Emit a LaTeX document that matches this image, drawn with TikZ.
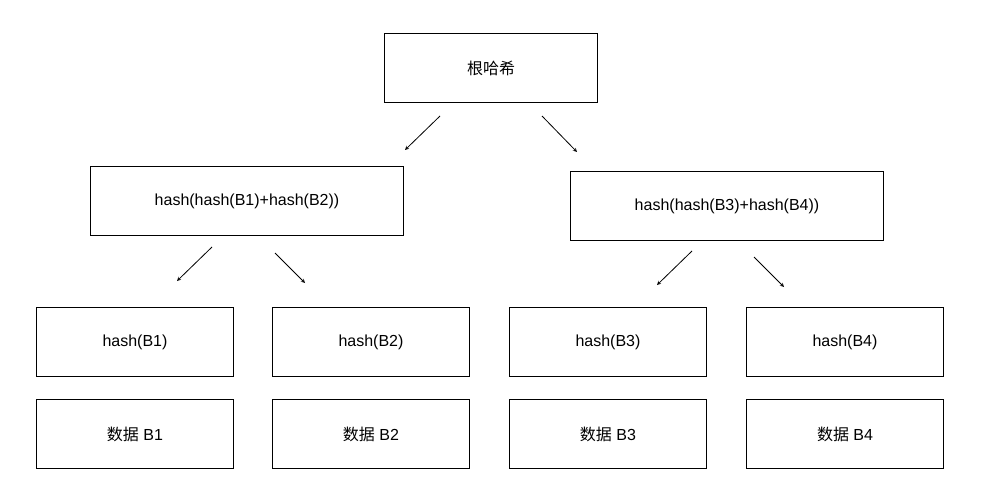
\documentclass[tikz,border=0pt]{standalone}
\usepackage{fontspec}
\setmainfont{Liberation Sans}
\newfontfamily\cjk{Noto Sans CJK SC}
\begin{document}
\begin{tikzpicture}[x=1pt,y=-1pt,
  box/.style={draw,thick,minimum width=197pt,minimum height=69pt,font=\fontsize{16}{18}\selectfont},
  arr/.style={draw,thick,->,>=stealth}]
\useasboundingbox (0,0) rectangle (983,500);
\node[box,minimum width=213pt] (root) at (491,68) {\cjk 根哈希};
\node[box,minimum width=313pt] (h12) at (247,201) {hash(hash(B1)+hash(B2))};
\node[box,minimum width=313pt] (h34) at (727,206) {hash(hash(B3)+hash(B4))};
\node[box] (h1) at (135,342) {hash(B1)};
\node[box] (h2) at (371,342) {hash(B2)};
\node[box] (h3) at (608,342) {hash(B3)};
\node[box] (h4) at (845,342) {hash(B4)};
\node[box] (d1) at (135,434) {{\cjk 数据} B1};
\node[box] (d2) at (371,434) {{\cjk 数据} B2};
\node[box] (d3) at (608,434) {{\cjk 数据} B3};
\node[box] (d4) at (845,434) {{\cjk 数据} B4};

\coordinate (a1) at (440,116); \coordinate (b1) at (405,150);
\coordinate (a2) at (542,116); \coordinate (b2) at (577,152);
\coordinate (a3) at (212,247); \coordinate (b3) at (177,281);
\coordinate (a4) at (275,253); \coordinate (b4) at (305,283);
\coordinate (a5) at (692,251); \coordinate (b5) at (657,285);
\coordinate (a6) at (754,257); \coordinate (b6) at (784,287);

\path[arr] (a1) -- (b1);
\path[arr] (a2) -- (b2);
\path[arr] (a3) -- (b3);
\path[arr] (a4) -- (b4);
\path[arr] (a5) -- (b5);
\path[arr] (a6) -- (b6);
\end{tikzpicture}
\end{document}
